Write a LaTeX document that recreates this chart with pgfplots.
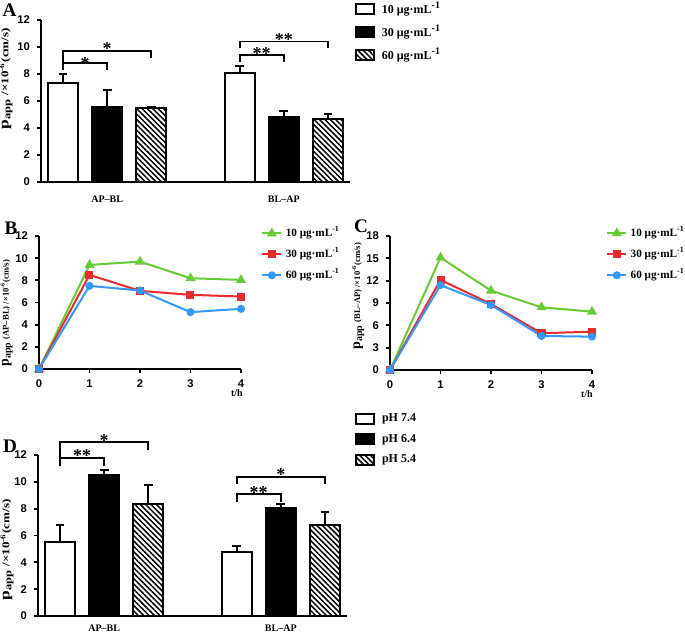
\documentclass[border=0pt]{standalone}
\usepackage{fontspec}
\setmainfont{Liberation Serif}
\setsansfont{Liberation Sans}
\usepackage{pgfplots}
\pgfplotsset{compat=1.18}
\usetikzlibrary{patterns.meta}

\definecolor{cgreen}{RGB}{102,204,51}
\definecolor{cred}{RGB}{232,44,44}
\definecolor{cblue}{RGB}{51,153,255}

\newcommand\tkf{\fontsize{5.6}{6}\selectfont\sffamily\bfseries}
\newcommand\lgf{\fontsize{6}{7}\selectfont\bfseries}
\newcommand\ugml{μg·mL\textsuperscript{-1}}
% y label of the bar panels (stretched along the text, as in the reference)
\newcommand\barlab{\scalebox{1.25}[1]{\bfseries\fontsize{7}{8}\selectfont p\textsubscript{app}\fontsize{5.2}{6}\selectfont\ /×10\textsuperscript{-6}(cm/s)}}
\newcommand\linelab[1]{\bfseries\fontsize{7}{8}\selectfont p\textsubscript{app}\fontsize{4.3}{5}\selectfont\ (#1) /×10\textsuperscript{-6}(cm/s)}

\pgfplotsset{
  base/.style={
    scale only axis, anchor=south west,
    axis lines=left, axis line style={line width=1pt,-},
    tick align=outside, major tick length=2pt,
    every tick/.style={line width=0.9pt, black},
    /pgf/number format/assume math mode=true,
    ticklabel style={font=\tkf},
    clip=false,
  },
  barax/.style={base,
    xmin=0, xmax=7, ymin=0, ymax=12, ytick={0,2,...,12},
    xtick={1.5,5.5}, xticklabels={AP–BL,BL–AP},
    x tick style={draw=none},
    xticklabel style={font=\fontsize{5}{6}\selectfont\bfseries, yshift=-1.5pt},
    legend style={draw=none, fill=none, inner sep=0pt, anchor=north west,
      font=\lgf, row sep=3.1pt, legend cell align=left, nodes={inner sep=0.5pt},
      /tikz/every odd column/.style={column sep=2.8pt}},
    legend image code/.code={\draw[##1,/tikz/.cd,line width=1pt] (0pt,-2.3pt) rectangle (9pt,2.7pt);},
  },
  lineax/.style={base,
    xmin=0, xmax=4, xtick={0,...,4}, ymin=0,
    legend style={draw=none, fill=none, inner sep=0pt, anchor=north west,
      font=\fontsize{5.6}{6.5}\selectfont\bfseries, row sep=2.9pt, legend cell align=left,
      nodes={inner sep=0.5pt}, /tikz/every odd column/.style={column sep=1.2pt}},
    legend image code/.code={\draw[##1,mark repeat=2,mark phase=2] plot coordinates {(0pt,0pt) (4.75pt,0pt) (9.5pt,0pt)};},
    xlabel={\fontsize{5}{6}\selectfont\bfseries t/h},
  },
  bar/.style={ybar, bar shift=0pt, bar width=0.68, line width=1pt, draw=black,
    error bars/y dir=plus, error bars/y explicit,
    error bars/error bar style={line width=1pt, black, solid},
    error bars/error mark options={rotate=90, mark size=2.2pt, line width=1pt, black}},
  ln/.style={line width=1pt, mark options={solid}},
}
\tikzset{st/.style={anchor=base, yshift=-5pt, inner sep=0pt, font=\fontsize{9}{9}\selectfont\bfseries},
  br/.style={line width=0.9pt},
  lett/.style={font=\fontsize{9.6}{10}\selectfont\bfseries, inner sep=0pt}}

\begin{document}
\begin{tikzpicture}
\useasboundingbox (0,0) rectangle (342.5pt,316.5pt);

% ---------- A ----------
\begin{axis}[barax, at={(20.5pt,225.5pt)}, width=154.5pt, height=81pt,
  ylabel={\barlab},
  ylabel style={at={(axis description cs:-0.113,0.636)}, anchor=center},
  legend style={at={(axis description cs:1.016,1.12)}},
]
\addplot[bar, fill=white] coordinates {(0.5,7.33) +- (0,0.65) (4.5,8.09) +- (0,0.5)};
\addlegendentry{10 \ugml}
\addplot[bar, fill=black] coordinates {(1.5,5.57) +- (0,1.23) (5.5,4.78) +- (0,0.47)};
\addlegendentry{30 \ugml}
\addplot[bar, fill=white, postaction={pattern={Lines[angle=-45,distance=1.9pt,line width=0.75pt]}}] coordinates {(2.5,5.45) +- (0,0.12) (6.5,4.65) +- (0,0.42)};
\addlegendentry{60 \ugml}
\draw[br] (axis cs:0.5,8.29) |- (axis cs:1.5,8.79) -- (axis cs:1.5,8.29);
\draw[br] (axis cs:0.5,8.79) |- (axis cs:2.5,9.7) -- (axis cs:2.5,9.16);
\node[st] at (axis cs:1.0,9.1) {*};
\node[st] at (axis cs:1.5,10.15) {*};
\draw[br] (axis cs:4.5,8.9) |- (axis cs:5.5,9.41) -- (axis cs:5.5,8.9);
\draw[br] (axis cs:4.5,9.9) |- (axis cs:6.5,10.4) -- (axis cs:6.5,9.9);
\node[st] at (axis cs:5.0,9.78) {**};
\node[st] at (axis cs:5.5,10.84) {**};
\end{axis}

% ---------- B ----------
\begin{axis}[lineax, at={(19.5pt,132pt)}, width=101pt, height=66.5pt,
  ymax=12, ytick={0,2,...,12},
  ylabel={\linelab{AP–BL}},
  ylabel style={at={(axis description cs:-0.16,0.42)}, anchor=center},
  xlabel style={at={(axis description cs:0.98,-0.18)}, anchor=center},
  legend style={at={(axis description cs:1.099,1.08)}},
]
\addplot[ln, cgreen, mark=triangle*, mark size=1.9pt] coordinates {(0,0) (1,9.39) (2,9.69) (3,8.19) (4,8.04)};
\addlegendentry{10 \ugml}
\addplot[ln, cred, mark=square*, mark size=1.5pt] coordinates {(0,0) (1,8.49) (2,7.05) (3,6.69) (4,6.54)};
\addlegendentry{30 \ugml}
\addplot[ln, cblue, mark=*, mark size=1.5pt] coordinates {(0,0) (1,7.5) (2,7.08) (3,5.13) (4,5.43)};
\addlegendentry{60 \ugml}
\end{axis}

% ---------- C ----------
\begin{axis}[lineax, at={(195pt,131.5pt)}, width=101pt, height=67pt,
  ymax=18, ytick={0,3,...,18},
  ylabel={\linelab{BL–AP}},
  ylabel style={at={(axis description cs:-0.158,0.55)}, anchor=center},
  xlabel style={at={(axis description cs:0.975,-0.18)}, anchor=center},
  legend style={at={(axis description cs:1.069,1.08)}},
]
\addplot[ln, cgreen, mark=triangle*, mark size=1.9pt] coordinates {(0,0) (1,15.1) (2,10.66) (3,8.42) (4,7.84)};
\addlegendentry{10 \ugml}
\addplot[ln, cred, mark=square*, mark size=1.5pt] coordinates {(0,0) (1,12.1) (2,8.87) (3,4.93) (4,5.15)};
\addlegendentry{30 \ugml}
\addplot[ln, cblue, mark=*, mark size=1.5pt] coordinates {(0,0) (1,11.4) (2,8.73) (3,4.57) (4,4.48)};
\addlegendentry{60 \ugml}
\end{axis}

% ---------- D ----------
\begin{axis}[barax, at={(19pt,8.5pt)}, width=154.5pt, height=80.5pt,
  xticklabel style={yshift=2.75pt},
  ylabel={\barlab},
  ylabel style={at={(axis description cs:-0.1,0.41)}, anchor=center},
  legend style={at={(axis description cs:1.026,1.265)}, row sep=3.8pt},
]
\addplot[bar, fill=white] coordinates {(0.5,5.54) +- (0,1.24) (4.5,4.75) +- (0,0.49)};
\addlegendentry{pH 7.4}
\addplot[bar, fill=black] coordinates {(1.5,10.48) +- (0,0.4) (5.5,8.07) +- (0,0.25)};
\addlegendentry{pH 6.4}
\addplot[bar, fill=white, postaction={pattern={Lines[angle=-45,distance=1.9pt,line width=0.75pt]}}] coordinates {(2.5,8.35) +- (0,1.39) (6.5,6.78) +- (0,0.97)};
\addlegendentry{pH 5.4}
\draw[br] (axis cs:0.5,11.18) |- (axis cs:1.5,11.8) -- (axis cs:1.5,11.18);
\draw[br] (axis cs:0.5,11.8) |- (axis cs:2.5,12.97) -- (axis cs:2.5,12.37);
\node[st] at (axis cs:1.0,12.25) {**};
\node[st] at (axis cs:1.5,13.4) {*};
\draw[br] (axis cs:4.5,8.52) |- (axis cs:5.5,9.07) -- (axis cs:5.5,8.52);
\draw[br] (axis cs:4.5,9.81) |- (axis cs:6.5,10.36) -- (axis cs:6.5,9.81);
\node[st] at (axis cs:5.0,9.5) {**};
\node[st] at (axis cs:5.5,10.83) {*};
\end{axis}

% panel letters
\node[lett] at (4.75pt,311.25pt) {A};
\node[lett] at (5.5pt,202.25pt) {B};
\node[lett] at (180.5pt,203.5pt) {C};
\node[lett] at (5pt,93.5pt) {D};
\end{tikzpicture}
\end{document}
